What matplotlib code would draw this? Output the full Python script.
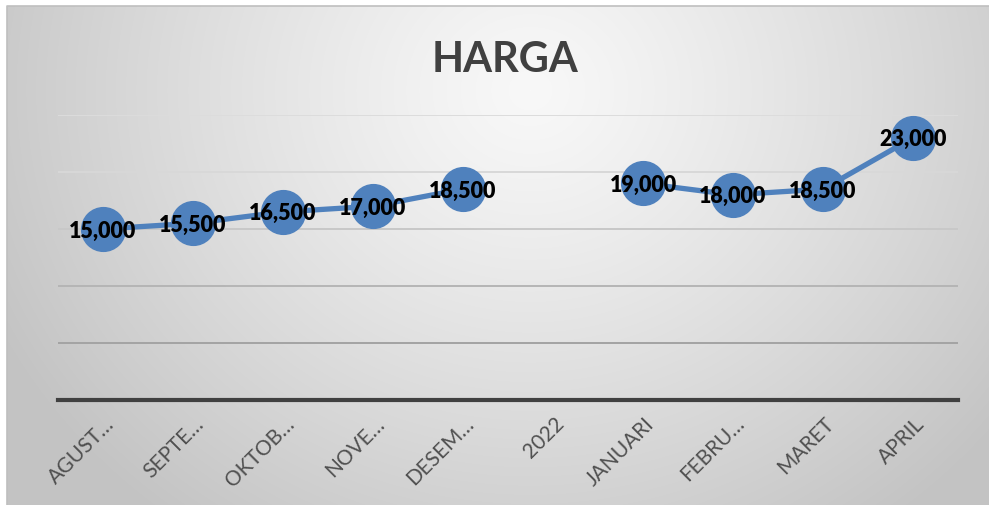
import numpy as np
import matplotlib
matplotlib.use("Agg")
import matplotlib.pyplot as plt
from matplotlib.transforms import ScaledTranslation

# Datos del grafico
bulan = ["AGUST…", "SEPTE…", "OKTOB…", "NOVE…", "DESEM…", "2022",
         "JANUARI", "FEBRU…", "MARET", "APRIL"]
harga = [15000, 15500, 16500, 17000, 18500, np.nan, 19000, 18000, 18500, 23000]
grid_vals = [5000, 10000, 15000, 20000, 25000]

FONT = "Lato"
BLUE = "#4F81BD"

W, H = 989, 505
fig = plt.figure(figsize=(W / 100, H / 100), dpi=100)
fig.patch.set_facecolor("white")

# Fondo con degradado radial
bg = fig.add_axes([0, 0, 1, 1])
bg.set_xlim(0, W)
bg.set_ylim(H, 0)
bg.axis("off")
yy, xx = np.mgrid[6:H, 7:W]
d = np.sqrt((xx - 530) ** 2 + ((yy - 90) * 1.1) ** 2) / 600
d = np.clip(d, 0, 1) ** 1.2
grey = (248 - 53 * d) / 255
img = np.dstack([grey, grey, grey])
bg.imshow(img, extent=(7, W, H, 6), aspect="auto", interpolation="bilinear")
bg.plot([7, 7, W], [H, 6, 6], color="#bfbfbf", lw=1.2)

# Area del grafico
ax = fig.add_axes([58 / W, 1 - 400 / H, 900 / W, 285 / H])
ax.patch.set_alpha(0)
ax.set_xlim(-0.5, len(bulan) - 0.5)
ax.set_ylim(0, 25000)

grid_colors = ["#a3a3a3", "#b5b5b5", "#c8c8c8", "#d8d8d8", "#dcdcdc"]
for v, c in zip(grid_vals, grid_colors):
    ax.axhline(v, color=c, lw=1.4, zorder=1)

for s in ["top", "right", "left"]:
    ax.spines[s].set_visible(False)
ax.spines["bottom"].set_color("#404040")
ax.spines["bottom"].set_linewidth(3)
ax.set_yticks([])

x = np.arange(len(bulan))
ax.plot(x, harga, color=BLUE, lw=3.8, marker="o", markersize=31.5,
        markerfacecolor=BLUE, markeredgecolor=BLUE, zorder=3, clip_on=False)

for xi, v in zip(x, harga):
    if np.isnan(v):
        continue
    ax.text(xi, v, f"{int(v):,}", ha="center", va="center_baseline",
            fontsize=15.5, fontweight="heavy", family=FONT, color="black", zorder=4)

ax.set_xticks(x)
ax.set_xticklabels(bulan, rotation=45, ha="right", va="center",
                   rotation_mode="anchor", fontsize=15, family=FONT, color="#505050")
ax.tick_params(axis="x", length=0, pad=15)
offset = ScaledTranslation(8 / 100, 0, fig.dpi_scale_trans)
for lab in ax.get_xticklabels():
    lab.set_transform(lab.get_transform() + offset)

fig.text(505 / W, 1 - 72 / H, "HARGA", ha="center", va="baseline",
         fontsize=30, fontweight="bold", family=FONT, color="#404040")

fig.savefig("out.png", dpi=100)
